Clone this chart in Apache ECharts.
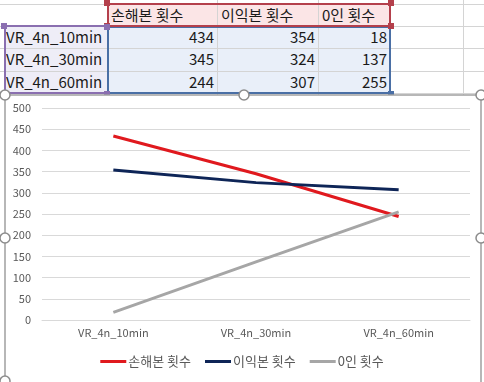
<!DOCTYPE html>
<html>
<head>
<meta charset="utf-8">
<script src="https://cdn.jsdelivr.net/npm/echarts@6/dist/echarts.min.js"></script>
<style>
  html, body { margin:0; padding:0; width:484px; height:382px; overflow:hidden; background:#fff; }
  #sheet { position:absolute; left:0; top:0; width:484px; height:382px; font-family:"Noto Sans CJK KR","Noto Sans",sans-serif; }
  .cell { position:absolute; font-size:15px; color:#1a1a1a; line-height:22px; white-space:nowrap; }
  .vl { position:absolute; width:1px; background:#d4d4d4; top:0; height:382px; }
  .hl { position:absolute; height:1px; background:#d4d4d4; left:0; width:484px; }
  .box { position:absolute; box-sizing:border-box; }
  .sq { position:absolute; width:6px; height:6px; }
  #chart { position:absolute; left:0; top:0; width:484px; height:382px; }
</style>
</head>
<body>
<div id="sheet"></div>
<div id="chart"></div>
<script>
const categories = ['VR_4n_10min', 'VR_4n_30min', 'VR_4n_60min'];
const seriesNames = ['손해본 횟수', '이익본 횟수', '0인 횟수'];
const lossCounts = [434, 345, 244];
const gainCounts = [354, 324, 307];
const zeroCounts = [18, 137, 255];
const yTicks = [0, 50, 100, 150, 200, 250, 300, 350, 400, 450, 500];
const seriesColors = ['#e0191e', '#0e2557', '#a6a6a6'];

// ---- spreadsheet table (HTML) ----
const sheet = document.getElementById('sheet');
function add(cls, style, text) {
  const d = document.createElement('div');
  d.className = cls;
  Object.assign(d.style, style);
  if (text !== undefined) d.textContent = text;
  sheet.appendChild(d);
  return d;
}
const colX = [0, 107, 217, 318, 390, 463];
const rowY = [4, 26, 48, 71, 93];
// fills
add('box', {left:'107px', top:'4px', width:'283px', height:'22px', background:'#fbe5e6'});
add('box', {left:'107px', top:'26px', width:'283px', height:'67px', background:'#e9eff9'});
add('box', {left:'4px', top:'26px', width:'103px', height:'67px', background:'#eeedf7'});
// grid lines
colX.slice(1).forEach(x => add('vl', {left: x + 'px'}));
rowY.forEach(y => add('hl', {top: y + 'px'}));
// header texts
const headerCols = [1, 2, 3];
seriesNames.forEach((n, i) => {
  add('cell', {left: (colX[headerCols[i]] + 4) + 'px', top: '4px'}, n);
});
const tableData = [lossCounts, gainCounts, zeroCounts];
categories.forEach((c, r) => {
  add('cell', {left: '6px', top: rowY[r + 1] + 'px'}, c);
  tableData.forEach((arr, k) => {
    add('cell', {left: colX[k + 1] + 'px', width: (colX[k + 2] - colX[k + 1] - 3) + 'px', textAlign: 'right', top: rowY[r + 1] + 'px'}, String(arr[r]));
  });
});
// selection borders
add('box', {left:'4px', top:'25px', width:'105px', height:'69px', border:'2px solid #8a6fb0'});
add('box', {left:'107px', top:'26px', width:'284px', height:'68px', border:'2px solid #4a6fa5'});
add('box', {left:'107px', top:'3px', width:'284px', height:'24px', border:'2px solid #b4404c'});
[[104,0,'#b4404c'],[388,0,'#b4404c'],[104,23,'#b4404c'],[388,23,'#b4404c'],[1,23,'#8a6fb0'],[104,24,'#8a6fb0'],[104,91,'#8a6fb0'],[1,91,'#8a6fb0'],[388,91,'#4a6fa5']].forEach(p => {
  add('sq', {left: p[0] + 'px', top: p[1] + 'px', background: p[2]});
});

// ---- chart ----
const chart = echarts.init(document.getElementById('chart'), null, {renderer: 'canvas'});
const handles = [[5,95],[244,95],[481,95],[5,238],[481,238],[5,381]].map(p => ({
  type: 'circle', z: 100, shape: {cx: p[0], cy: p[1], r: 5},
  style: {fill: '#fff', stroke: '#8c8c8c', lineWidth: 1.5}
}));
const option = {
  animation: false,
  textStyle: {fontFamily: '"Noto Sans CJK KR","Noto Sans",sans-serif'},
  graphic: [
    {type: 'rect', z: -10, shape: {x: 5, y: 95, width: 476, height: 292}, style: {fill: '#fff', stroke: '#a0a0a0', lineWidth: 1.5}}
  ].concat(handles),
  grid: {left: 42, right: 14, top: 108, bottom: 62},
  xAxis: {
    type: 'category',
    data: categories,
    boundaryGap: true,
    axisLine: {lineStyle: {color: '#d9d9d9'}},
    axisTick: {show: false},
    axisLabel: {color: '#595959', fontSize: 11, margin: 7}
  },
  yAxis: {
    type: 'value',
    min: yTicks[0],
    max: yTicks[yTicks.length - 1],
    interval: yTicks[1] - yTicks[0],
    axisLine: {show: false},
    axisTick: {show: false},
    axisLabel: {color: '#595959', fontSize: 11, margin: 11},
    splitLine: {lineStyle: {color: '#d9d9d9'}}
  },
  legend: {
    left: 'center',
    top: 350,
    icon: 'rect',
    itemWidth: 26,
    itemHeight: 3,
    itemGap: 14,
    textStyle: {color: '#595959', fontSize: 13, padding: [0, 0, 0, -3]},
    data: seriesNames
  },
  series: [lossCounts, gainCounts, zeroCounts].map((d, i) => ({
    type: 'line',
    name: seriesNames[i],
    data: d,
    symbol: 'none',
    lineStyle: {width: 3, color: seriesColors[i]},
    itemStyle: {color: seriesColors[i]}
  }))
};
chart.setOption(option);
</script>
</body>
</html>
